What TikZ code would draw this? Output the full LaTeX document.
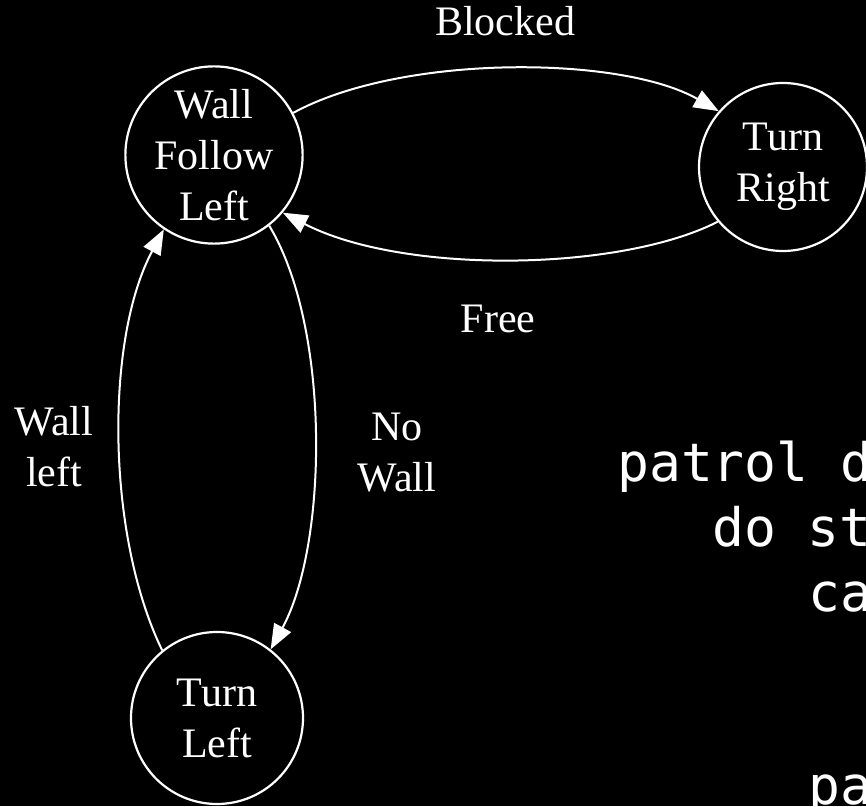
\documentclass[tikz,border=0pt]{standalone}
\usepackage{fontspec}
\setmainfont{Liberation Serif}
\newfontfamily\codefont{DejaVu Sans Mono}
\usetikzlibrary{arrows.meta}
\begin{document}
\begin{tikzpicture}[x=1pt,y=1pt,
  state/.style={circle,draw=white,line width=2.2pt,minimum size=172pt,inner sep=0pt,
    text=white,align=center,font=\fontsize{42}{51}\selectfont},
  lbl/.style={text=white,align=center,inner sep=0pt,font=\fontsize{42}{51}\selectfont},
  trans/.style={draw=white,line width=2pt,-{Triangle[length=25pt,width=19pt]}},
  code/.style={text=white,inner sep=0pt,anchor=base west,font=\codefont\fontsize{53}{64}\selectfont}]
  % background and page frame
  \fill[black] (0,0) rectangle (866,806);
  \useasboundingbox (0,0) rectangle (866,806);
  \clip (0,0) rectangle (866,806);

  % states
  \node[state] (wfl) at (214,651) {Wall\\Follow\\Left};
  \node[state,minimum size=168pt] (tr) at (783,639) {Turn\\Right};
  \node[state] (tl) at (217,88) {Turn\\Left};

  % transitions
  \draw[trans] (wfl.28) .. controls +(108,59) and +(-98,56) .. (tr.139);
  \draw[trans] (tr.220) .. controls +(-98,-50) and +(120,-62) .. (wfl.320);
  \draw[trans] (wfl.308) .. controls +(62,-103) and +(57,104) .. (tl.52);
  \draw[trans] (tl.129) .. controls +(-56,115) and +(-59,-110) .. (wfl.236);

  % transition labels
  \node[lbl,anchor=base] (lblocked) at (505,770) {Blocked};
  \node[lbl,anchor=base] (lfree) at (498,473) {Free};
  \node[lbl] (lwall) at (54,359) {Wall\\left};
  \node[lbl] (lnowall) at (397,353) {No\\Wall};

  % code listing, running off the right edge
  \node[code] (c1) at (617,324) {patrol d};
  \node[code] (c2) at (712,260) {do st};
  \node[code] (c3) at (808,195) {ca};
  \node[code] (c4) at (808,2) {pa};
\end{tikzpicture}
\end{document}
